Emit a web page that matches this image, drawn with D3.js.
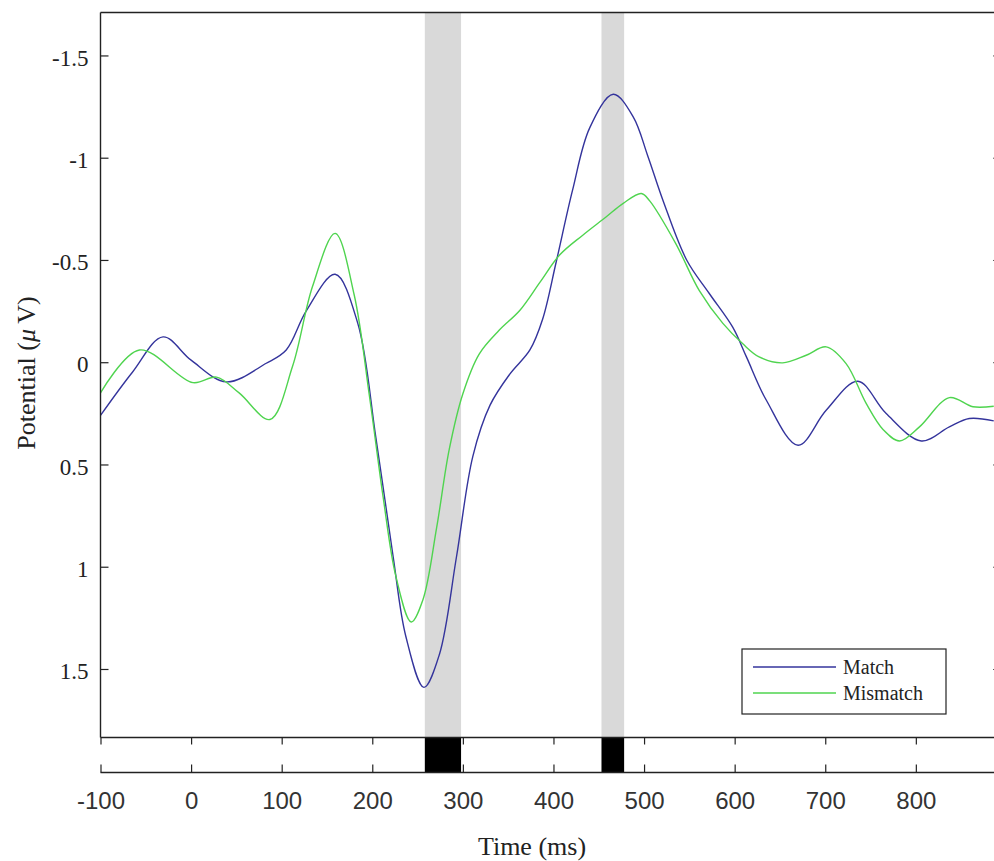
<!DOCTYPE html>
<html>
    <head>
        <style>
            body{
                margin: 0;
                background: #fff;
            }
            svg{
                display: block;
            }
        </style>
    </head>
    <body>
        <script src="https://d3js.org/d3.v7.min.js"></script>
        <script>
            // ERP traces (time in ms, potential in microvolts)
            const matchTime = [-100, -65, -31, 0, 39, 83, 105, 127, 159, 184, 204, 223, 237, 257, 274, 293, 311, 330, 352, 374, 388, 403, 421, 440, 466, 488, 504, 521, 547, 572, 598, 613, 635, 670, 701, 736, 767, 806, 837, 859, 886]
            const matchValues = [0.26, 0.05, -0.124, -0.01, 0.096, 0.005, -0.06, -0.25, -0.43, -0.19, 0.37, 0.95, 1.34, 1.59, 1.43, 0.95, 0.46, 0.21, 0.057, -0.06, -0.21, -0.49, -0.84, -1.146, -1.31, -1.2, -1.01, -0.79, -0.5, -0.336, -0.17, -0.026, 0.186, 0.406, 0.235, 0.093, 0.25, 0.385, 0.316, 0.275, 0.287]

            const mismatchTime = [-100, -57, 2, 28, 53, 87, 112, 134, 159, 180, 197, 212, 226, 243, 256, 271, 285, 300, 318, 340, 363, 385, 407, 432, 458, 477, 497, 506, 535, 561, 587, 609, 627, 653, 679, 701, 723, 745, 764, 782, 804, 837, 863, 886]
            const mismatchValues = [0.15, -0.06, 0.1, 0.073, 0.15, 0.28, 0.02, -0.37, -0.63, -0.33, 0.17, 0.66, 1.046, 1.27, 1.16, 0.81, 0.425, 0.154, -0.04, -0.156, -0.254, -0.39, -0.525, -0.62, -0.71, -0.777, -0.825, -0.79, -0.58, -0.35, -0.19, -0.09, -0.026, 0.003, -0.034, -0.075, 0.007, 0.2, 0.33, 0.385, 0.316, 0.173, 0.218, 0.215]

            const seriesNames = ["Match", "Mismatch"]
            const seriesColors = ["#34349c", "#4fd44f"]

            // significant windows (ms)
            const bandStart = [258, 453]
            const bandEnd = [298, 478]

            const xTicks = [-100, 0, 100, 200, 300, 400, 500, 600, 700, 800]
            const yTicks = [-1.5, -1, -0.5, 0, 0.5, 1, 1.5]

            const w = 994
            const h = 861
            const plotLeft = 100.5
            const plotRight = 1001
            const plotTop = 12.5
            const plotBottom = 737.5
            const stripBottom = 772.5

            const svg = d3.select("body").append("svg").attr("width", w).attr("height", h)

            const xScale = d3.scaleLinear().domain([-100, 894]).range([plotLeft, plotRight])
            const yScale = d3.scaleLinear().domain([-1.71, 1.835]).range([plotTop, plotBottom])

            // grey bands in the main panel, black in the strip
            bandStart.forEach((s, i) => {
                svg.append("rect")
                    .attr("x", xScale(s)).attr("y", plotTop)
                    .attr("width", xScale(bandEnd[i]) - xScale(s)).attr("height", plotBottom - plotTop)
                    .attr("fill", "#d9d9d9")
                svg.append("rect")
                    .attr("x", xScale(s)).attr("y", plotBottom)
                    .attr("width", xScale(bandEnd[i]) - xScale(s)).attr("height", stripBottom - plotBottom)
                    .attr("fill", "#000")
            })

            // lines
            const series = [
                matchTime.map((t, i) => [t, matchValues[i]]),
                mismatchTime.map((t, i) => [t, mismatchValues[i]])
            ]
            const line = d3.line().x(d => xScale(d[0])).y(d => yScale(d[1])).curve(d3.curveCatmullRom.alpha(0.5))
            series.forEach((s, i) => {
                svg.append("path").datum(s)
                    .attr("d", line)
                    .attr("fill", "none")
                    .attr("stroke", seriesColors[i])
                    .attr("stroke-width", 1.4)
            })

            // box lines
            svg.append("line").attr("x1", plotLeft).attr("x2", w).attr("y1", plotTop).attr("y2", plotTop)
                .attr("stroke", "#222").attr("stroke-width", 1.6)
            svg.append("line").attr("x1", plotLeft).attr("x2", plotLeft).attr("y1", plotTop).attr("y2", plotBottom)
                .attr("stroke", "#222").attr("stroke-width", 1.4)

            // y axis (left, ticks pointing in), mirrored ticks on the right
            const yAxis = d3.axisRight(yScale).tickValues(yTicks).tickSize(8).tickFormat(d => d)
            const gy = svg.append("g").attr("id", "y-axis").attr("transform", "translate(" + plotLeft + ",0)").call(yAxis)
            gy.select(".domain").remove()
            gy.selectAll("line").attr("stroke", "#222").attr("stroke-width", 1.2)
            gy.selectAll("text")
                .attr("x", -12).attr("dy", "0.42em")
                .attr("text-anchor", "end")
                .attr("font-family", "Liberation Serif, Times New Roman, serif")
                .attr("font-size", 23).attr("fill", "#222")
                .text(d => String(d).replace("\u2212", "-"))

            const yAxisR = d3.axisLeft(yScale).tickValues(yTicks).tickSize(8).tickFormat("")
            const gyr = svg.append("g").attr("transform", "translate(" + plotRight + ",0)").call(yAxisR)
            gyr.select(".domain").remove()
            gyr.selectAll("line").attr("stroke", "#555")

            // strip with x ticks
            svg.append("line").attr("x1", plotLeft).attr("x2", w).attr("y1", plotBottom).attr("y2", plotBottom)
                .attr("stroke", "#222").attr("stroke-width", 1.4)
            svg.append("line").attr("x1", plotLeft).attr("x2", w).attr("y1", stripBottom).attr("y2", stripBottom)
                .attr("stroke", "#222").attr("stroke-width", 1.4)

            const xTop = d3.axisBottom(xScale).tickValues(xTicks).tickSize(7).tickFormat("")
            const gxt = svg.append("g").attr("transform", "translate(0," + plotBottom + ")").call(xTop)
            gxt.select(".domain").remove()
            gxt.selectAll("line").attr("stroke", "#222").attr("stroke-width", 1.2)

            const xAxis = d3.axisTop(xScale).tickValues(xTicks).tickSize(8).tickFormat(d => d)
            const gx = svg.append("g").attr("id", "x-axis").attr("transform", "translate(0," + stripBottom + ")").call(xAxis)
            gx.select(".domain").remove()
            gx.selectAll("line").attr("stroke", "#222").attr("stroke-width", 1.2)
            gx.selectAll("text")
                .attr("y", 36).attr("dy", 0)
                .attr("font-family", "Liberation Sans, Arial, sans-serif")
                .attr("font-size", 24).attr("fill", "#333")
                .text(d => String(d).replace("\u2212", "-"))

            // axis titles
            svg.append("text")
                .attr("x", 532).attr("y", 855)
                .attr("text-anchor", "middle")
                .attr("font-family", "Liberation Serif, Times New Roman, serif")
                .attr("font-size", 26).attr("fill", "#222")
                .text("Time (ms)")

            const yl = svg.append("text")
                .attr("transform", "translate(35,373) rotate(-90)")
                .attr("text-anchor", "middle")
                .attr("font-family", "Liberation Serif, Times New Roman, serif")
                .attr("font-size", 26).attr("fill", "#222")
            yl.append("tspan").text("Potential (")
            yl.append("tspan").attr("font-style", "italic").text("\u03bc")
            yl.append("tspan").text("\u2009V)")

            // legend
            const lg = svg.append("g").attr("transform", "translate(742,649)")
            lg.append("rect").attr("width", 204).attr("height", 65)
                .attr("fill", "#fff").attr("stroke", "#222").attr("stroke-width", 1.2)
            seriesNames.forEach((name, i) => {
                lg.append("line").attr("x1", 11).attr("x2", 94)
                    .attr("y1", 18 + i * 26).attr("y2", 18 + i * 26)
                    .attr("stroke", seriesColors[i]).attr("stroke-width", 1.4)
                lg.append("text").attr("x", 101).attr("y", 18 + i * 26 + 7)
                    .attr("font-family", "Liberation Serif, Times New Roman, serif")
                    .attr("font-size", 20).attr("fill", "#222")
                    .text(name)
            })
        </script>
    </body>
</html>
